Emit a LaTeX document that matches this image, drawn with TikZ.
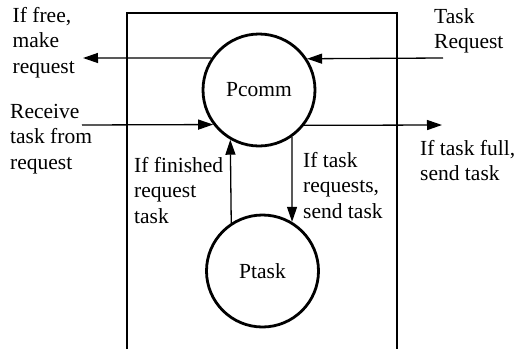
\documentclass[tikz,border=0pt]{standalone}
\usepackage{fontspec}
\setmainfont{Liberation Serif}
\newfontfamily\diagserif{Liberation Serif}
\usetikzlibrary{arrows.meta}
\newcommand{\lblfont}{\diagserif\fontsize{21.5}{25.5}\selectfont}
\begin{document}
\begin{tikzpicture}[x=1pt,y=-1pt,
  proc/.style={circle,draw,line width=2.8pt,minimum size=112pt,inner sep=0pt,font=\lblfont},
  lbl/.style={font=\lblfont,align=left,inner sep=0pt,anchor=north west},
  flow/.style={line width=1.3pt,-{Triangle[length=15pt,width=10pt]}},
  frame/.style={line width=1.3pt}]
\useasboundingbox (0,0) rectangle (515,349);
% boundary
\coordinate (bl) at (127,349);
\coordinate (tl) at (127,13);
\coordinate (tr) at (397,13);
\coordinate (br) at (397,349);
\draw[frame] (bl) -- (tl) -- (tr) -- (br);
% processes
\node[proc] (pc) at (259,90) {Pcomm};
\node[proc] (pt) at (262.5,271) {Ptask};
% free ends
\coordinate (freeL) at (83,58);
\coordinate (reqR) at (443,58);
\coordinate (recvL) at (82,125);
\coordinate (fullR) at (442,125);
% connectors
\draw[flow] (pc.146.05) -- (freeL);
\draw[flow] (reqR) -- (pc.33.95);
\draw[flow] (recvL) -- (pc.217.65);
\draw[flow] (pc.322.35) -- (fullR);
\draw[flow] (pt.123.35) -- (pc.240.75);
\draw[flow] (pc.305.16) -- (pt.59.02);
% labels
\node[lbl] (t1) at (12.5,4.3) {\strut If free,\\make\\request};
\node[lbl] (t2) at (10,100.3) {\strut Receive\\task from\\request};
\node[lbl] (t3) at (434,5.3) {\strut Task\\Request};
\node[lbl] (t4) at (134,154.3) {\strut If finished\\request\\task};
\node[lbl] (t5) at (303,149) {\strut If task\\requests,\\send task};
\node[lbl] (t6) at (420,137.3) {\strut If task full,\\send task};
\end{tikzpicture}
\end{document}
